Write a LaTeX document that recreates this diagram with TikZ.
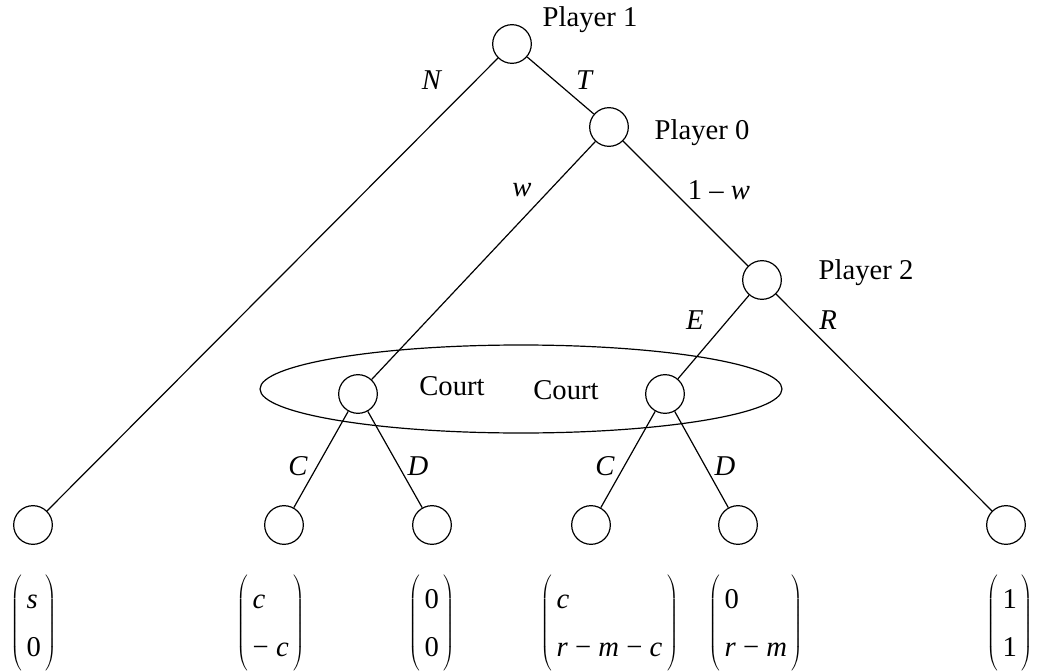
\documentclass[tikz,border=0pt]{standalone}
\usepackage{fontspec}
\setmainfont{Liberation Serif}
\newcommand\paypair[2]{$\left(\vcenter{\hbox{\renewcommand\arraystretch{1.38}\begin{tabular}{@{\,}l@{\,}}#1\\#2\end{tabular}}}\right)$}
\begin{document}
\begin{tikzpicture}[x=0.75pt,y=-0.75pt,
  every node/.style={font=\fontsize{21.5}{25.8}\selectfont},
  dnode/.style={circle,draw,line width=0.9pt,minimum size=29pt,inner sep=0pt},
  edge/.style={line width=0.9pt},
  lbl/.style={inner sep=0pt},
  pay/.style={anchor=west,inner sep=0pt}]
\useasboundingbox (0,0) rectangle (1040,671);
% information set
\draw[line width=0.9pt] (521,389) ellipse (261 and 44);
% decision nodes
\node[dnode] (root) at (512,44) {};
\node[dnode] (p0) at (609,127) {};
\node[dnode] (p2) at (762,280) {};
\node[dnode] (cl) at (358,394) {};
\node[dnode] (cr) at (665,394) {};
% leaves
\node[dnode] (l1) at (33,525) {};
\node[dnode] (l2) at (284,525) {};
\node[dnode] (l3) at (432,525) {};
\node[dnode] (l4) at (591,525) {};
\node[dnode] (l5) at (738,525) {};
\node[dnode] (l6) at (1006,525) {};
% edges
\draw[edge] (root) -- (l1);
\draw[edge] (root) -- (p0);
\draw[edge] (p0) -- (cl);
\draw[edge] (p0) -- (p2);
\draw[edge] (p2) -- (cr);
\draw[edge] (p2) -- (l6);
\draw[edge] (cl) -- (l2);
\draw[edge] (cl) -- (l3);
\draw[edge] (cr) -- (l4);
\draw[edge] (cr) -- (l5);
% player labels
\node[lbl] (t1) at (590,20) {Player 1};
\node[lbl] (t0) at (702,133) {Player 0};
\node[lbl] (t2) at (866,273) {Player 2};
% edge labels
\node[lbl] (eN) at (432,80) {\textit{N}};
\node[lbl] (eT) at (585,80) {\textit{T}};
\node[lbl] (ew) at (522,190) {\textit{w}};
\node[lbl] (e1w) at (719,190) {1 – \textit{w}};
\node[lbl] (eE) at (695,320) {\textit{E}};
\node[lbl] (eR) at (828,320) {\textit{R}};
\node[lbl] (c1) at (452,386) {Court};
\node[lbl] (c2) at (566,390) {Court};
\node[lbl] (eC1) at (298,466) {\textit{C}};
\node[lbl] (eD1) at (418,466) {\textit{D}};
\node[lbl] (eC2) at (605,466) {\textit{C}};
\node[lbl] (eD2) at (725,466) {\textit{D}};
% payoffs
\node[pay] (p1) at (10,623) {\paypair{\textit{s}}{0}};
\node[pay] (pp2) at (236,623) {\paypair{\textit{c}}{− \textit{c}}};
\node[pay] (pp3) at (408,623) {\paypair{0}{0}};
\node[pay] (pp4) at (540,623) {\paypair{\textit{c}}{\textit{r} − \textit{m} − \textit{c}}};
\node[pay] (pp5) at (708,623) {\paypair{0}{\textit{r} − \textit{m}}};
\node[pay] (pp6) at (986,623) {\paypair{1}{1}};
\end{tikzpicture}
\end{document}
